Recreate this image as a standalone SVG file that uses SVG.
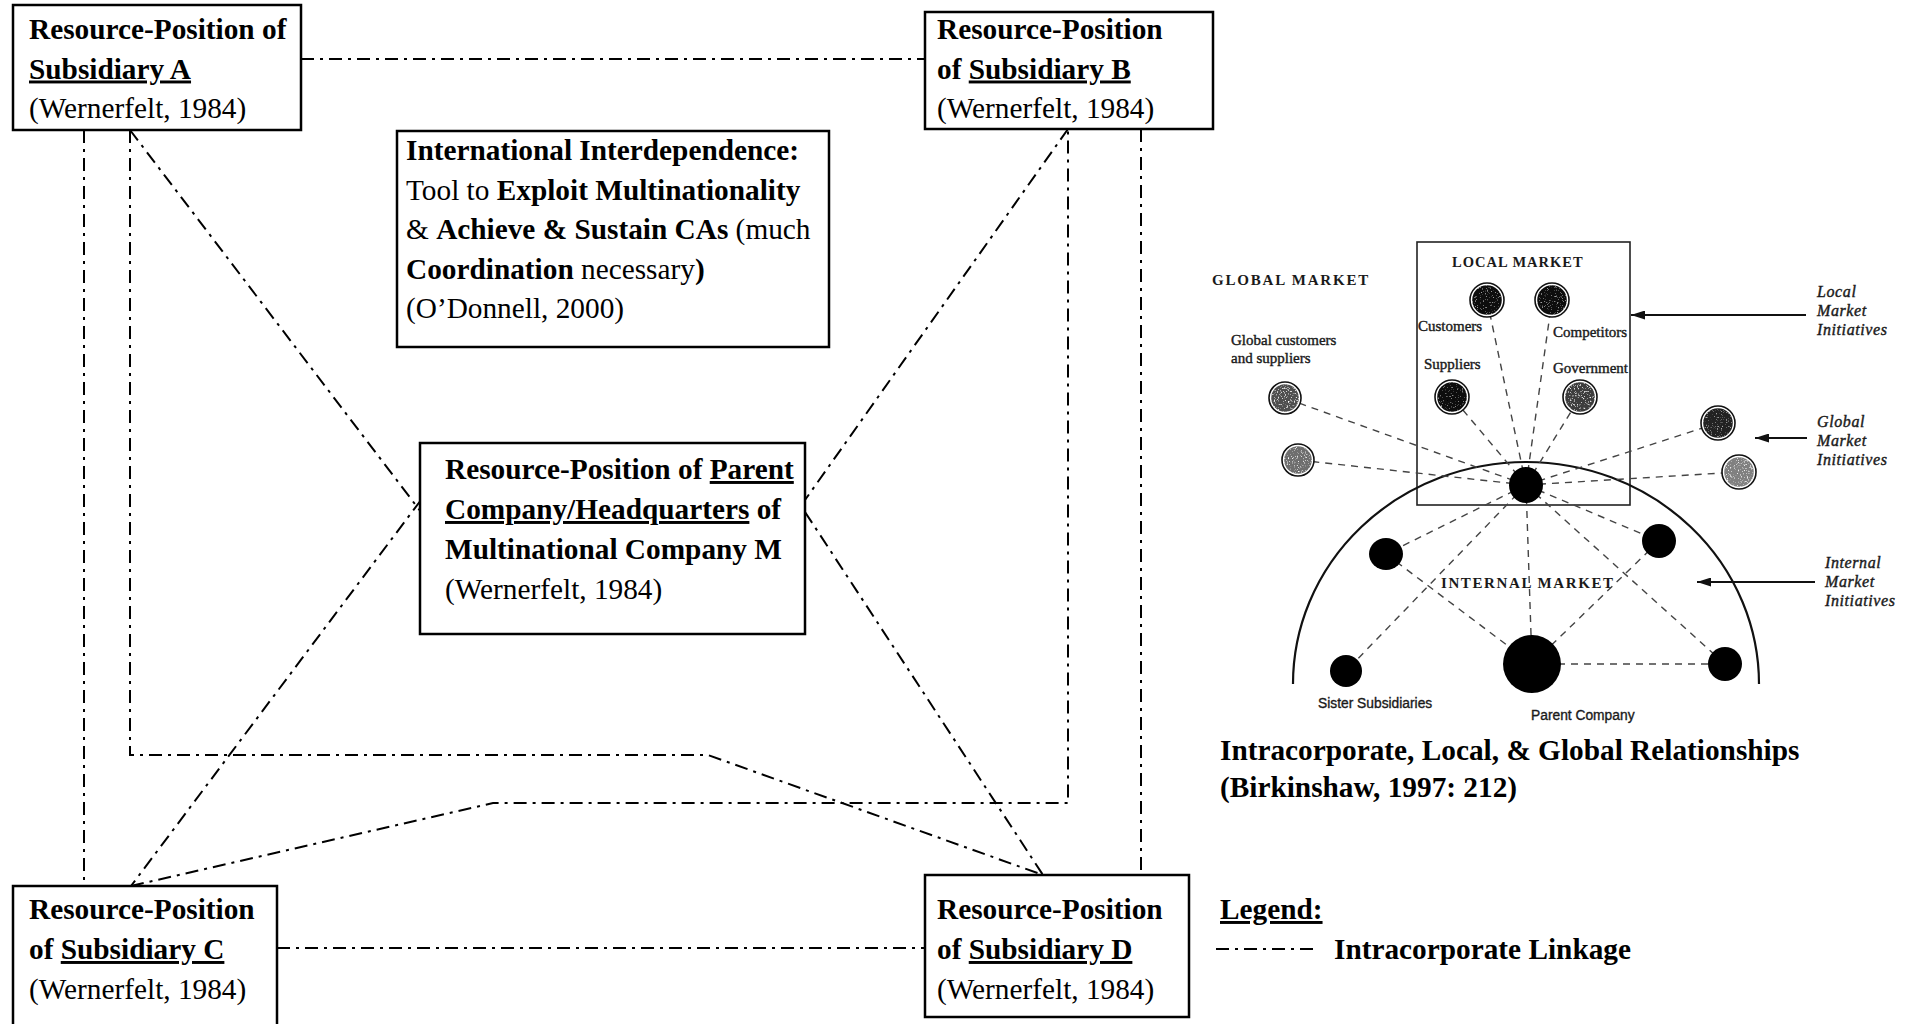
<svg xmlns="http://www.w3.org/2000/svg" width="1908" height="1024" viewBox="0 0 1908 1024">
  <style>
    .box { fill: #fff; stroke: #000; stroke-width: 2.5; }
    .t { font-family: "Liberation Serif", "Times New Roman", serif; font-size: 29.3px; fill: #000; }
    .b { font-weight: bold; }
    .u { text-decoration: underline; text-decoration-thickness: 2.4px; text-underline-offset: 4px; }
    .link { fill: none; stroke: #000; stroke-width: 2; stroke-dasharray: 13 6 3 6; }
    .fig-line { fill: none; stroke: #111; stroke-width: 2.2; }
    .dash { fill: none; stroke: #444; stroke-width: 1.4; stroke-dasharray: 7 6; }
    .ring { fill: #fff; stroke: #111; stroke-width: 1.6; }
    .dot { fill: #000; }
    .cap { font-family: "Liberation Serif", "Times New Roman", serif; font-weight: bold; fill: #1a1a1a; }
    .small { font-family: "Liberation Serif", "Times New Roman", serif; font-size: 15px; fill: #1a1a1a; stroke: #1a1a1a; stroke-width: 0.4; }
    .sans { font-family: "Liberation Sans", Arial, sans-serif; font-size: 13.8px; fill: #1a1a1a; stroke: #1a1a1a; stroke-width: 0.35; }
    .ital { font-family: "Liberation Serif", "Times New Roman", serif; font-style: italic; font-size: 16px; letter-spacing: 0.6px; fill: #1a1a1a; stroke: #1a1a1a; stroke-width: 0.4; }
    .arrow { stroke: #111; stroke-width: 1.8; marker-end: url(#ah); }
  </style>
  <defs>
    <marker id="ah" viewBox="0 0 14 9" refX="14" refY="4.5" markerWidth="14" markerHeight="9" markerUnits="userSpaceOnUse" orient="auto">
      <path d="M0,0 L14,4.5 L0,9 z" fill="#111"/>
    </marker>
    <!-- light speckle for the stippled market nodes -->
    <filter id="grain" x="-10%" y="-10%" width="120%" height="120%">
      <feTurbulence type="fractalNoise" baseFrequency="0.7" numOctaves="2" seed="7" result="noise"/>
      <feColorMatrix in="noise" type="matrix" values="0 0 0 0 1  0 0 0 0 1  0 0 0 0 1  4 0 0 0 -2.3" result="specks"/>
      <feComposite in="specks" in2="SourceAlpha" operator="in" result="clip"/>
      <feMerge><feMergeNode in="SourceGraphic"/><feMergeNode in="clip"/></feMerge>
    </filter>
    <!-- sparse speckle for the dark nodes -->
    <filter id="grain-dark" x="-10%" y="-10%" width="120%" height="120%">
      <feTurbulence type="fractalNoise" baseFrequency="0.8" numOctaves="2" seed="3" result="noise"/>
      <feColorMatrix in="noise" type="matrix" values="0 0 0 0 0.45  0 0 0 0 0.45  0 0 0 0 0.45  4 0 0 0 -2.5" result="specks"/>
      <feComposite in="specks" in2="SourceAlpha" operator="in" result="clip"/>
      <feMerge><feMergeNode in="SourceGraphic"/><feMergeNode in="clip"/></feMerge>
    </filter>
  </defs>

  <rect width="1908" height="1024" fill="#fff"/>

  <!-- intracorporate linkages -->
  <g id="links">
    <path class="link" d="M301 59 H925"/>
    <path class="link" d="M277 948 H925"/>
    <path class="link" d="M84 130 V886"/>
    <path class="link" d="M1141 129 V875"/>
    <path class="link" d="M130 130 L421 512"/>
    <path class="link" d="M421 500 L131 886"/>
    <path class="link" d="M1068 129 L805 500"/>
    <path class="link" d="M805 512 L1043 875"/>
    <path class="link" d="M130 130 V755 H708 L1043 875"/>
    <path class="link" d="M131 886 L493 803 H1068 V129"/>
  </g>

  <g id="n-sub-a">
    <rect class="box" x="13" y="5" width="288" height="125"/>
    <text class="t b" x="29" y="39">Resource-Position of</text>
    <text class="t b u" x="29" y="78.5">Subsidiary A</text>
    <text class="t" x="29" y="118">(Wernerfelt, 1984)</text>
  </g>

  <g id="n-sub-b">
    <rect class="box" x="925" y="12" width="288" height="117"/>
    <text class="t b" x="937" y="39">Resource-Position</text>
    <text class="t b" x="937" y="78.5">of <tspan class="u">Subsidiary B</tspan></text>
    <text class="t" x="937" y="118">(Wernerfelt, 1984)</text>
  </g>

  <g id="n-interdep">
    <rect class="box" x="397" y="131" width="432" height="216"/>
    <text class="t b" x="406" y="160">International Interdependence:</text>
    <text class="t" x="406" y="199.5">Tool to <tspan class="b">Exploit Multinationality</tspan></text>
    <text class="t" x="406" y="239">&amp; <tspan class="b">Achieve &amp; Sustain CAs</tspan> (much</text>
    <text class="t" x="406" y="278.5"><tspan class="b">Coordination</tspan> necessary<tspan class="b">)</tspan></text>
    <text class="t" x="406" y="318">(O’Donnell, 2000)</text>
  </g>

  <g id="n-parent">
    <rect class="box" x="420" y="443" width="385" height="191"/>
    <text class="t b" x="445" y="479">Resource-Position of <tspan class="u">Parent</tspan></text>
    <text class="t b" x="445" y="519"><tspan class="u">Company/Headquarters</tspan> of</text>
    <text class="t b" x="445" y="559">Multinational Company M</text>
    <text class="t" x="445" y="599">(Wernerfelt, 1984)</text>
  </g>

  <g id="n-sub-c">
    <rect class="box" x="13" y="886" width="264" height="150"/>
    <text class="t b" x="29" y="919">Resource-Position</text>
    <text class="t b" x="29" y="959">of <tspan class="u">Subsidiary C</tspan></text>
    <text class="t" x="29" y="999">(Wernerfelt, 1984)</text>
  </g>

  <g id="n-sub-d">
    <rect class="box" x="925" y="875" width="264" height="142"/>
    <text class="t b" x="937" y="919">Resource-Position</text>
    <text class="t b" x="937" y="959">of <tspan class="u">Subsidiary D</tspan></text>
    <text class="t" x="937" y="999">(Wernerfelt, 1984)</text>
  </g>

  <g id="legend">
    <text class="t b u" x="1220" y="919">Legend:</text>
    <path class="link" d="M1216 949 H1314"/>
    <text class="t b" x="1334" y="959">Intracorporate Linkage</text>
  </g>

  <!-- Birkinshaw figure: intracorporate, local and global relationships -->
  <g id="birkinshaw-figure">
    <text class="cap" x="1212" y="285" font-size="15" letter-spacing="1.8">GLOBAL MARKET</text>
    <rect x="1417" y="242" width="213" height="263" fill="none" stroke="#222" stroke-width="1.6"/>
    <text class="cap" x="1452" y="267" font-size="14.5" letter-spacing="1">LOCAL MARKET</text>
    <path class="fig-line" d="M1293 684 A233 222 0 0 1 1759 684"/>

    <g id="fig-dashes">
      <path class="dash" d="M1526 485 L1487 300"/>
      <path class="dash" d="M1526 485 L1552 300"/>
      <path class="dash" d="M1526 485 L1452 397"/>
      <path class="dash" d="M1526 485 L1580 397"/>
      <path class="dash" d="M1526 485 L1285 398"/>
      <path class="dash" d="M1526 485 L1298 460"/>
      <path class="dash" d="M1526 485 L1718 423"/>
      <path class="dash" d="M1526 485 L1739 472"/>
      <path class="dash" d="M1526 485 L1386 554"/>
      <path class="dash" d="M1526 485 L1659 541"/>
      <path class="dash" d="M1526 485 L1346 671"/>
      <path class="dash" d="M1526 485 L1725 664"/>
      <path class="dash" d="M1526 485 L1532 664"/>
      <path class="dash" d="M1386 554 L1532 664"/>
      <path class="dash" d="M1659 541 L1532 664"/>
      <path class="dash" d="M1532 664 L1725 664"/>
    </g>

    <g id="fig-local-nodes">
      <circle class="ring" cx="1487" cy="300" r="17"/><circle cx="1487" cy="300" r="14.8" fill="#111" filter="url(#grain-dark)"/>
      <circle class="ring" cx="1552" cy="300" r="17"/><circle cx="1552" cy="300" r="14.8" fill="#111" filter="url(#grain-dark)"/>
      <circle class="ring" cx="1452" cy="397" r="17"/><circle cx="1452" cy="397" r="14.8" fill="#0c0c0c" filter="url(#grain-dark)"/>
      <circle class="ring" cx="1580" cy="397" r="17"/><circle cx="1580" cy="397" r="14.8" fill="#3c3c3c" filter="url(#grain)"/>
    </g>
    <g id="fig-global-nodes">
      <circle class="ring" cx="1285" cy="398" r="16"/><circle cx="1285" cy="398" r="13.8" fill="#505050" filter="url(#grain)"/>
      <circle class="ring" cx="1298" cy="460" r="16"/><circle cx="1298" cy="460" r="13.8" fill="#6e6e6e" filter="url(#grain)"/>
      <circle class="ring" cx="1718" cy="423" r="17"/><circle cx="1718" cy="423" r="14.8" fill="#222" filter="url(#grain-dark)"/>
      <circle class="ring" cx="1739" cy="472" r="17"/><circle cx="1739" cy="472" r="14.8" fill="#808080" filter="url(#grain)"/>
    </g>
    <g id="fig-internal-nodes">
      <ellipse class="dot" cx="1526" cy="485" rx="17" ry="18"/>
      <ellipse class="dot" cx="1386" cy="554" rx="17" ry="16"/>
      <ellipse class="dot" cx="1659" cy="541" rx="17" ry="17"/>
      <ellipse class="dot" cx="1346" cy="671" rx="16" ry="16"/>
      <ellipse class="dot" cx="1532" cy="664" rx="29" ry="29"/>
      <ellipse class="dot" cx="1725" cy="664" rx="17" ry="17"/>
    </g>

    <text class="small" x="1418" y="331">Customers</text>
    <text class="small" x="1553" y="337" font-size="14.5">Competitors</text>
    <text class="small" x="1424" y="369">Suppliers</text>
    <text class="small" x="1553" y="373" font-size="14.5">Government</text>
    <text class="small" x="1231" y="345">Global customers</text>
    <text class="small" x="1231" y="363">and suppliers</text>
    <text class="cap" x="1441" y="588" font-size="15" letter-spacing="1.6">INTERNAL MARKET</text>
    <text class="sans" x="1318" y="708">Sister Subsidiaries</text>
    <text class="sans" x="1531" y="720">Parent Company</text>

    <g id="fig-initiatives">
      <line class="arrow" x1="1806" y1="315" x2="1631" y2="315"/>
      <line class="arrow" x1="1807" y1="438" x2="1755" y2="438"/>
      <line class="arrow" x1="1815" y1="582" x2="1697" y2="582"/>
      <text class="ital" x="1817" y="297">Local</text>
      <text class="ital" x="1817" y="316">Market</text>
      <text class="ital" x="1817" y="335">Initiatives</text>
      <text class="ital" x="1817" y="427">Global</text>
      <text class="ital" x="1817" y="446">Market</text>
      <text class="ital" x="1817" y="465">Initiatives</text>
      <text class="ital" x="1825" y="568">Internal</text>
      <text class="ital" x="1825" y="587">Market</text>
      <text class="ital" x="1825" y="606">Initiatives</text>
    </g>

    <text class="t b" x="1220" y="760">Intracorporate, Local, &amp; Global Relationships</text>
    <text class="t b" x="1220" y="797">(Birkinshaw, 1997: 212)</text>
  </g>
</svg>
